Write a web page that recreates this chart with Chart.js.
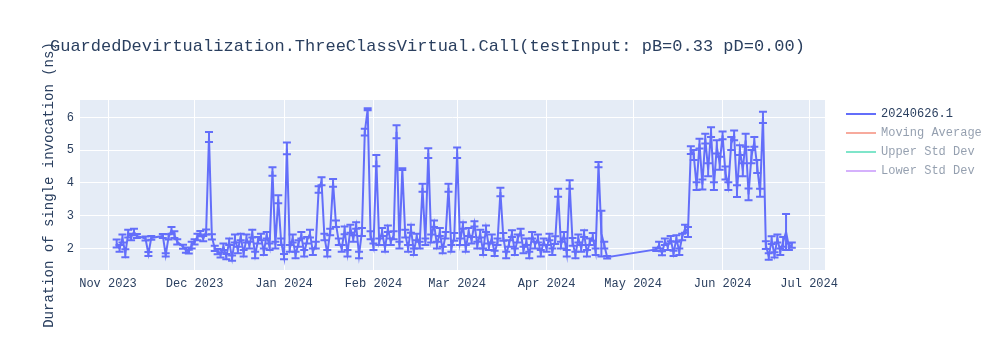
<!DOCTYPE html>
<html>
<head>
<meta charset="utf-8">
<script src="https://cdn.jsdelivr.net/npm/chart.js@4.4.1/dist/chart.umd.min.js"></script>
<style>
html, body { margin: 0; padding: 0; background: #fff; }
#wrap { width: 1000px; height: 350px; }
</style>
</head>
<body>
<div id="wrap"><canvas id="grafico" width="1000" height="350"></canvas></div>
<script>
const chartTitle = 'GuardedDevirtualization.ThreeClassVirtual.Call(testInput: pB=0.33 pD=0.00)';
const yTitle = 'Duration of single invocation (ns)';
const seriesNames = ['20240626.1', 'Moving Average', 'Upper Std Dev', 'Lower Std Dev'];

// one row per month
const dates = [
  '2023-11-04','2023-11-05','2023-11-06','2023-11-07','2023-11-08','2023-11-09','2023-11-10','2023-11-11','2023-11-14','2023-11-15','2023-11-16','2023-11-20','2023-11-21','2023-11-22','2023-11-23','2023-11-24','2023-11-25','2023-11-27','2023-11-28','2023-11-29','2023-11-30',
  '2023-12-01','2023-12-02','2023-12-03','2023-12-04','2023-12-05','2023-12-06','2023-12-07','2023-12-08','2023-12-09','2023-12-10','2023-12-11','2023-12-12','2023-12-13','2023-12-14','2023-12-15','2023-12-16','2023-12-17','2023-12-18','2023-12-19','2023-12-20','2023-12-21','2023-12-22','2023-12-23','2023-12-24','2023-12-25','2023-12-26','2023-12-27','2023-12-28','2023-12-29','2023-12-30','2023-12-31',
  '2024-01-01','2024-01-02','2024-01-03','2024-01-04','2024-01-05','2024-01-06','2024-01-07','2024-01-08','2024-01-09','2024-01-10','2024-01-11','2024-01-12','2024-01-13','2024-01-14','2024-01-15','2024-01-16','2024-01-17','2024-01-18','2024-01-19','2024-01-20','2024-01-21','2024-01-22','2024-01-23','2024-01-24','2024-01-25','2024-01-26','2024-01-27','2024-01-28','2024-01-29','2024-01-30','2024-01-31',
  '2024-02-01','2024-02-02','2024-02-03','2024-02-04','2024-02-05','2024-02-06','2024-02-07','2024-02-08','2024-02-09','2024-02-10','2024-02-11','2024-02-12','2024-02-13','2024-02-14','2024-02-15','2024-02-16','2024-02-17','2024-02-18','2024-02-19','2024-02-20','2024-02-21','2024-02-22','2024-02-23','2024-02-24','2024-02-25','2024-02-26','2024-02-27','2024-02-28','2024-02-29',
  '2024-03-01','2024-03-02','2024-03-03','2024-03-04','2024-03-05','2024-03-06','2024-03-07','2024-03-08','2024-03-09','2024-03-10','2024-03-11','2024-03-12','2024-03-13','2024-03-14','2024-03-15','2024-03-16','2024-03-17','2024-03-18','2024-03-19','2024-03-20','2024-03-21','2024-03-22','2024-03-23','2024-03-24','2024-03-25','2024-03-26','2024-03-27','2024-03-28','2024-03-29','2024-03-30','2024-03-31',
  '2024-04-01','2024-04-02','2024-04-03','2024-04-04','2024-04-05','2024-04-06','2024-04-07','2024-04-08','2024-04-09','2024-04-10','2024-04-11','2024-04-12','2024-04-13','2024-04-14','2024-04-15','2024-04-16','2024-04-17','2024-04-18','2024-04-19','2024-04-20','2024-04-21','2024-04-22',
  '2024-05-09','2024-05-10','2024-05-11','2024-05-12','2024-05-13','2024-05-14','2024-05-15','2024-05-16','2024-05-17','2024-05-18','2024-05-19','2024-05-20',
  '2024-05-21','2024-05-22','2024-05-23','2024-05-24','2024-05-25','2024-05-26','2024-05-27','2024-05-28','2024-05-29','2024-05-30','2024-05-31',
  '2024-06-01','2024-06-02','2024-06-03','2024-06-04','2024-06-05','2024-06-06','2024-06-07','2024-06-08','2024-06-09','2024-06-10','2024-06-11','2024-06-12','2024-06-13','2024-06-14','2024-06-15','2024-06-16','2024-06-17','2024-06-18','2024-06-19','2024-06-20','2024-06-21','2024-06-22','2024-06-23','2024-06-24','2024-06-25'
];

const durations = [
  2.15,2.0,2.3,1.85,2.45,2.35,2.5,2.38,2.3,1.83,2.32,2.38,1.8,2.35,2.55,2.42,2.2,2.05,1.95,1.9,2.1,
  2.2,2.35,2.45,2.3,2.5,5.4,2.35,2.0,1.9,1.8,2.05,1.75,2.2,1.7,2.3,1.95,2.35,1.85,2.3,2.1,2.45,1.8,2.25,2.35,1.9,2.4,2.05,4.35,2.1,3.5,2.2,
  1.75,5.05,2.0,2.3,1.8,2.15,2.4,1.85,2.25,2.45,1.9,2.1,3.8,4.05,2.35,1.85,2.5,4.0,2.75,2.2,2.0,2.55,1.85,2.6,2.3,2.7,1.8,2.5,5.55,6.25,2.4,
  2.05,4.68,2.2,2.5,2.0,2.6,2.2,2.4,5.56,2.1,4.42,2.45,2.0,2.6,1.9,2.35,2.1,3.85,2.2,4.91,2.3,2.75,2.1,2.5,1.95,2.4,3.85,2.0,2.35,
  4.92,2.2,2.7,2.0,2.5,2.25,2.75,2.1,2.45,1.9,2.6,2.05,2.3,1.85,2.2,3.72,2.35,1.8,2.15,2.45,1.9,2.3,2.5,1.95,2.2,1.8,2.4,2.1,2.3,1.85,2.2,
  2.0,2.35,1.9,2.25,3.7,2.1,2.4,1.85,3.95,2.2,1.8,2.3,2.0,2.45,1.85,2.2,2.35,1.9,4.56,2.45,2.1,1.73,
  1.97,2.1,1.85,2.2,2.05,2.3,1.85,2.3,1.9,2.35,2.6,2.5,
  5.0,4.85,3.9,5.2,3.95,5.35,4.4,5.55,3.9,5.1,4.6,
  5.45,4.3,3.9,5.2,5.45,3.75,5.0,4.4,5.3,3.65,4.8,5.25,4.5,3.7,6.0,2.1,1.75,2.25,1.8,2.3,1.9,2.2,2.5,2.05,2.1
];

const errors = [
  0.12,0.1,0.12,0.12,0.12,0.1,0.1,0.06,0.06,0.06,0.06,0.06,0.05,0.08,0.1,0.1,0.08,0.06,0.08,0.06,0.1,
  0.08,0.1,0.08,0.08,0.08,0.15,0.08,0.08,0.08,0.08,0.1,0.08,0.1,0.08,0.12,0.1,0.1,0.1,0.12,0.1,0.12,0.1,0.1,0.1,0.1,0.1,0.1,0.13,0.1,0.12,0.1,
  0.08,0.18,0.1,0.12,0.1,0.1,0.1,0.1,0.1,0.12,0.1,0.1,0.1,0.12,0.1,0.1,0.1,0.12,0.1,0.1,0.1,0.12,0.1,0.12,0.1,0.1,0.1,0.12,0.1,0.03,0.12,
  0.1,0.17,0.1,0.12,0.1,0.1,0.1,0.12,0.2,0.1,0.03,0.12,0.1,0.12,0.1,0.1,0.1,0.12,0.1,0.15,0.12,0.1,0.1,0.12,0.1,0.1,0.12,0.1,0.12,
  0.16,0.1,0.1,0.1,0.12,0.1,0.08,0.1,0.12,0.1,0.1,0.1,0.12,0.08,0.1,0.13,0.12,0.1,0.1,0.1,0.1,0.12,0.1,0.1,0.1,0.1,0.1,0.1,0.12,0.1,0.1,
  0.1,0.1,0.1,0.12,0.12,0.1,0.1,0.1,0.13,0.12,0.1,0.12,0.1,0.1,0.1,0.1,0.12,0.1,0.08,0.7,0.1,0.04,
  0.05,0.1,0.06,0.1,0.1,0.08,0.08,0.1,0.1,0.1,0.12,0.15,
  0.12,0.15,0.12,0.15,0.15,0.15,0.2,0.15,0.12,0.2,0.2,
  0.12,0.2,0.12,0.2,0.15,0.18,0.15,0.2,0.2,0.18,0.2,0.15,0.2,0.12,0.17,0.12,0.1,0.12,0.08,0.12,0.1,0.15,0.55,0.1,0.08
];

const tickDates = ['2023-11-01','2023-12-01','2024-01-01','2024-02-01','2024-03-01','2024-04-01','2024-05-01','2024-06-01','2024-07-01'];
const tickLabels = ['Nov 2023','Dec 2023','Jan 2024','Feb 2024','Mar 2024','Apr 2024','May 2024','Jun 2024','Jul 2024'];
const yTicks = [2, 3, 4, 5, 6];
const xRange = ['2023-10-22T07:00:00Z', '2024-07-06T12:00:00Z'];
const yRange = [1.34, 6.53];

const mono = "'Courier New', 'Liberation Mono', monospace";
const textColor = '#2a3f5f';
const seriesColors = ['#636efa', '#EF553B', '#00cc96', '#ab63fa'];

const plotBackground = {
    id: 'plotBackground',
    beforeDraw(chart) {
        const { ctx, chartArea: a } = chart;
        ctx.save();
        ctx.fillStyle = '#fff';
        ctx.fillRect(0, 0, chart.width, chart.height);
        ctx.fillStyle = '#e5ecf6';
        ctx.fillRect(a.left, a.top, a.right - a.left, a.bottom - a.top);
        ctx.restore();
    }
};

const errorBars = {
    id: 'errorBars',
    afterDatasetsDraw(chart) {
        const { ctx, chartArea: a } = chart;
        const y = chart.scales.y;
        const meta = chart.getDatasetMeta(0);
        ctx.save();
        ctx.beginPath();
        ctx.rect(a.left, a.top, a.right - a.left, a.bottom - a.top);
        ctx.clip();
        ctx.strokeStyle = seriesColors[0];
        ctx.lineWidth = 2;
        meta.data.forEach((pt, i) => {
            const top = y.getPixelForValue(durations[i] + errors[i]);
            const bot = y.getPixelForValue(durations[i] - errors[i]);
            ctx.beginPath();
            ctx.moveTo(pt.x, top);
            ctx.lineTo(pt.x, bot);
            ctx.moveTo(pt.x - 4, top);
            ctx.lineTo(pt.x + 4, top);
            ctx.moveTo(pt.x - 4, bot);
            ctx.lineTo(pt.x + 4, bot);
            ctx.stroke();
        });
        ctx.restore();
    }
};

const annotations = {
    id: 'annotations',
    afterDraw(chart) {
        const ctx = chart.ctx;
        ctx.save();
        ctx.fillStyle = textColor;
        ctx.textBaseline = 'middle';

        ctx.font = '17px ' + mono;
        ctx.textAlign = 'left';
        ctx.fillText(chartTitle, 50, 46);

        ctx.save();
        ctx.translate(49, 185);
        ctx.rotate(-Math.PI / 2);
        ctx.font = '14px ' + mono;
        ctx.textAlign = 'center';
        ctx.fillText(yTitle, 0, 0);
        ctx.restore();

        // legend, the last three traces are toggled off
        ctx.font = '12px ' + mono;
        ctx.textAlign = 'left';
        chart.data.datasets.forEach((ds, i) => {
            const ly = 114 + i * 19;
            ctx.globalAlpha = i === 0 ? 1 : 0.5;
            ctx.strokeStyle = ds.borderColor;
            ctx.lineWidth = 2;
            ctx.beginPath();
            ctx.moveTo(846, ly);
            ctx.lineTo(876, ly);
            ctx.stroke();
            ctx.fillStyle = textColor;
            ctx.fillText(ds.label, 881, ly);
        });
        ctx.restore();
    }
};

function initChart() {
    const ctx = document.getElementById('grafico').getContext('2d');
    const points = dates.map((d, i) => ({ x: Date.parse(d), y: durations[i] }));

    const chart = new Chart(ctx, {
        type: 'line',
        data: {
            datasets: seriesNames.map((name, i) => ({
                label: name,
                data: i === 0 ? points : [],
                borderColor: seriesColors[i],
                borderWidth: 2,
                pointRadius: 0,
                tension: 0,
                fill: false
            }))
        },
        options: {
            responsive: false,
            animation: false,
            events: [],
            layout: {
                padding: { left: 50, top: 100, right: 175, bottom: 50 }
            },
            plugins: {
                legend: { display: false },
                tooltip: { enabled: false },
                title: { display: false }
            },
            scales: {
                x: {
                    type: 'linear',
                    min: Date.parse(xRange[0]),
                    max: Date.parse(xRange[1]),
                    afterBuildTicks: (scale) => {
                        scale.ticks = tickDates.map(d => ({ value: Date.parse(d) }));
                    },
                    afterFit: (scale) => { scale.height = 30; },
                    grid: { color: '#ffffff', lineWidth: 1, drawTicks: false },
                    border: { display: false },
                    ticks: {
                        autoSkip: false,
                        maxRotation: 0,
                        padding: 7,
                        color: textColor,
                        font: { family: mono, size: 12 },
                        callback: (value, index) => tickLabels[index]
                    }
                },
                y: {
                    min: yRange[0],
                    max: yRange[1],
                    afterBuildTicks: (scale) => {
                        scale.ticks = yTicks.map(v => ({ value: v }));
                    },
                    afterFit: (scale) => { scale.width = 30; },
                    grid: { color: '#ffffff', lineWidth: 1, drawTicks: false },
                    border: { display: false },
                    ticks: {
                        padding: 6,
                        color: textColor,
                        font: { family: mono, size: 12 }
                    }
                }
            }
        },
        plugins: [plotBackground, errorBars, annotations]
    });

    window.grafico = chart;
}

document.addEventListener('DOMContentLoaded', initChart);
</script>
</body>
</html>
